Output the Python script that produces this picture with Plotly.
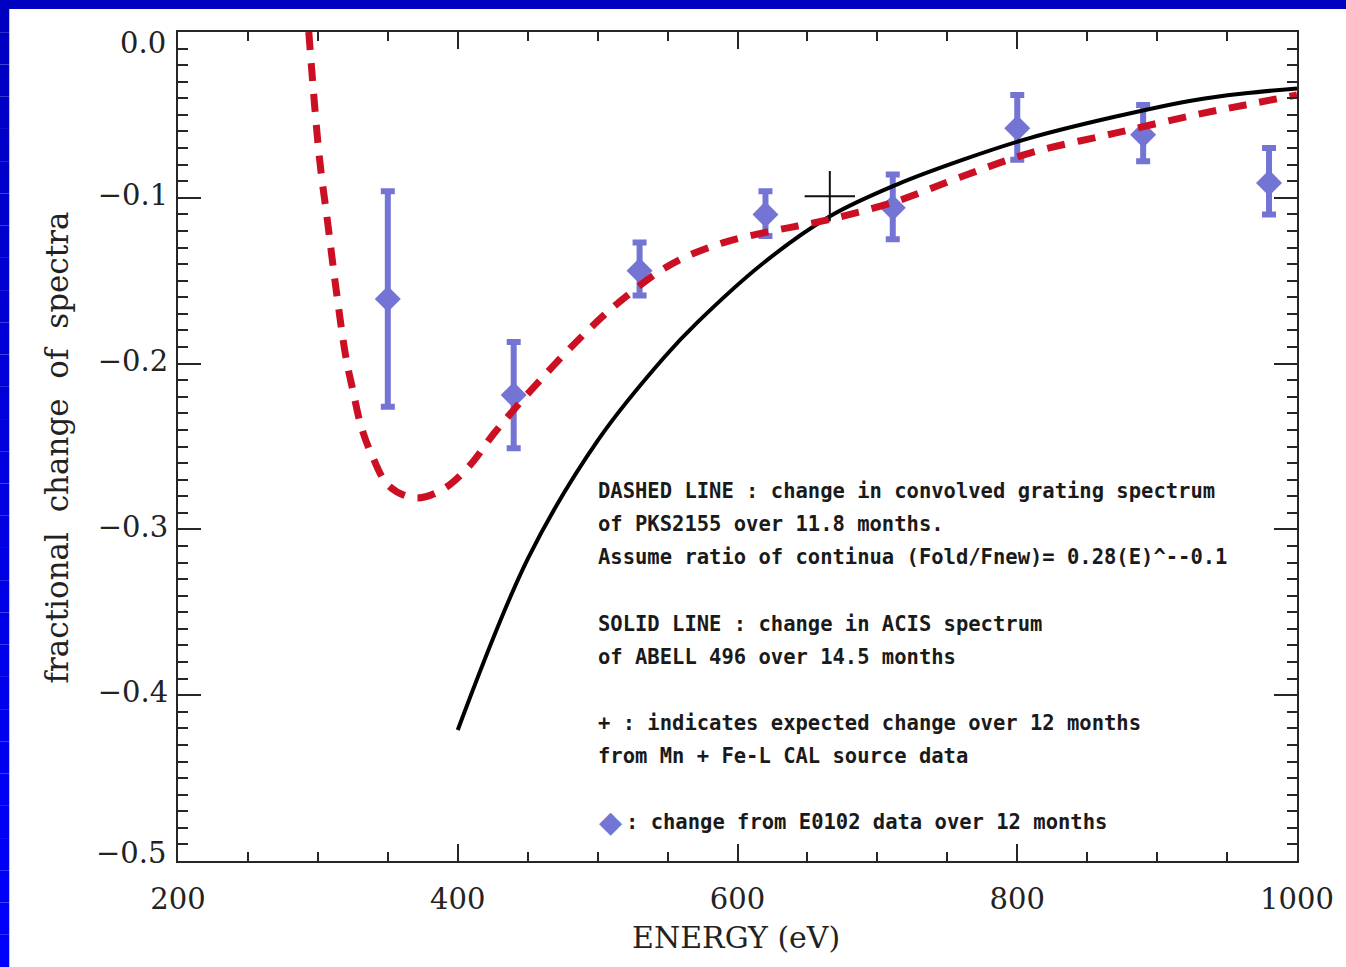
import plotly.graph_objects as go

# ---------------- data ----------------
# E0102 data points (diamonds with error bars)
e0102_energy = [350, 440, 530, 620, 711, 800, 890, 980]
e0102_change = [-0.161, -0.219, -0.144, -0.110, -0.106, -0.058, -0.062, -0.091]
e0102_err_up = [0.065, 0.032, 0.017, 0.014, 0.020, 0.020, 0.018, 0.021]
e0102_err_down = [0.065, 0.032, 0.015, 0.013, 0.019, 0.019, 0.016, 0.019]

# dashed line: convolved grating spectrum of PKS2155
dashed_energy = [293.5, 301, 307, 313, 320, 325, 331, 339, 351, 370, 389, 408, 426,
                 443, 460, 480, 503, 524, 543, 562, 590, 619, 643, 666, 714, 761,
                 809, 870, 927, 963, 1000]
dashed_change = [0.0, -0.075, -0.115, -0.155, -0.196, -0.216, -0.238, -0.256, -0.274,
                 -0.281, -0.276, -0.262, -0.242, -0.225, -0.209, -0.191, -0.172,
                 -0.157, -0.145, -0.136, -0.127, -0.121, -0.117, -0.113, -0.102,
                 -0.087, -0.073, -0.061, -0.050, -0.044, -0.038]

# solid line: ACIS spectrum of ABELL 496
solid_energy = [400, 450.5, 500.4, 547.8, 571.5, 619, 666.4, 713.9,
                761.3, 808.8, 870.5, 927.4, 963, 1000]
solid_change = [-0.421, -0.317, -0.246, -0.196, -0.175, -0.139, -0.111,
                -0.092, -0.077, -0.064, -0.051, -0.041, -0.037, -0.034]

# "+" : expected change from Mn + Fe-L CAL source data
cal_energy = [666]
cal_change = [-0.099]

x_ticks = [200, 400, 600, 800, 1000]
y_ticks = [0.0, -0.1, -0.2, -0.3, -0.4, -0.5]
y_tick_text = ["", "\u22120.1", "\u22120.2", "\u22120.3", "\u22120.4", ""]
y_end_labels = ["0.0", "\u22120.5"]

note_lines = [
    "DASHED LINE : change in convolved grating spectrum",
    "of PKS2155 over 11.8 months.",
    "Assume ratio of continua (Fold/Fnew)= 0.28(E)^--0.1",
    "SOLID LINE : change in ACIS spectrum",
    "of ABELL 496 over 14.5 months",
    "+ : indicates expected change over 12 months",
    "from Mn + Fe-L CAL source data",
    ": change from E0102 data over 12 months",
]

# ---------------- styling / layout constants ----------------
W, H = 1346, 967
ML, MR, MT, MB = 178, 44, 32, 106
PW, PH = W - ML - MR, H - MT - MB

BLUE_PT = "#7474d4"
RED = "#cc1024"
AXIS = "#262626"
SERIF = "DejaVu Serif"
MONO = "DejaVu Sans Mono"
TXT = "#1a1a1a"


def px_to_paper(px, py):
    return (px - ML) / PW, (H - MB - py) / PH


fig = go.Figure()

fig.add_trace(go.Scatter(
    x=e0102_energy, y=e0102_change, mode="markers",
    marker=dict(symbol="diamond", size=20, color=BLUE_PT),
    error_y=dict(type="data", symmetric=False, array=e0102_err_up,
                 arrayminus=e0102_err_down, color=BLUE_PT, thickness=6, width=7),
    showlegend=False, hoverinfo="skip"))

fig.add_trace(go.Scatter(
    x=solid_energy, y=solid_change, mode="lines",
    line=dict(color="black", width=4, shape="spline", smoothing=1.0),
    showlegend=False, hoverinfo="skip"))

fig.add_trace(go.Scatter(
    x=dashed_energy, y=dashed_change, mode="lines",
    line=dict(color=RED, width=7, dash="18px,13px", shape="spline", smoothing=1.0),
    showlegend=False, hoverinfo="skip"))

fig.add_trace(go.Scatter(
    x=cal_energy, y=cal_change, mode="markers",
    marker=dict(symbol="cross-thin", size=36, line=dict(color="#111111", width=2)),
    showlegend=False, hoverinfo="skip"))

# ---------------- blue frame (decoration) ----------------
shapes = []
x0, _ = px_to_paper(-10, 0)
x1, _ = px_to_paper(8.5, 0)
n_seg = 30
for i in range(n_seg):
    _, ya = px_to_paper(0, i * H / n_seg)
    _, yb = px_to_paper(0, (i + 1) * H / n_seg)
    b = int(192 + (255 - 192) * (i + 0.5) / n_seg)
    shapes.append(dict(type="rect", xref="paper", yref="paper", x0=x0, x1=x1,
                       y0=yb, y1=ya, fillcolor=f"rgb(0,0,{b})", line=dict(width=0),
                       layer="below"))
tx0, ty1 = px_to_paper(-10, -10)
tx1, ty0 = px_to_paper(W + 40, 9)
shapes.append(dict(type="rect", xref="paper", yref="paper", x0=tx0, x1=tx1,
                   y0=ty0, y1=ty1, fillcolor="rgb(0,0,192)", line=dict(width=0),
                   layer="below"))

# ---------------- annotations ----------------
annotations = []
line_px_y = [491, 524, 557, 624, 657, 723, 756, 822]
for i, (txt, py) in enumerate(zip(note_lines, line_px_y)):
    px = 598 if i < len(note_lines) - 1 else 626
    ax, ay = px_to_paper(px, py)
    annotations.append(dict(text=txt, xref="paper", yref="paper", x=ax, y=ay,
                            xanchor="left", yanchor="middle", showarrow=False,
                            font=dict(family=MONO, size=20.5, color=TXT, weight="bold")))
# diamond key symbol of the last note line
ax, ay = px_to_paper(612, 821)
annotations.append(dict(text="\u25c6", xref="paper", yref="paper", x=ax, y=ay,
                        xanchor="center", yanchor="middle", showarrow=False,
                        font=dict(family="DejaVu Sans", size=30, color=BLUE_PT)))

# end labels of the y axis (drawn slightly inside, as in the reference)
for lab, py in zip(y_end_labels, [43, 853]):
    ax, ay = px_to_paper(168, py)
    annotations.append(dict(text=lab, xref="paper", yref="paper", x=ax, y=ay,
                            xanchor="right", yanchor="middle", showarrow=False,
                            font=dict(family=SERIF, size=29, color="#222222")))

tx, ty = px_to_paper(738, 937)
annotations.append(dict(text="ENERGY (eV)", xref="paper", yref="paper", x=tx, y=ty,
                        xanchor="center", yanchor="middle", showarrow=False,
                        font=dict(family=SERIF, size=30, color="#222222")))
tx, ty = px_to_paper(56, 448)
annotations.append(dict(text="fractional\u00a0\u00a0change\u00a0\u00a0of\u00a0\u00a0spectra",
                        xref="paper", yref="paper",
                        x=tx, y=ty, xanchor="center", yanchor="middle", textangle=-90,
                        showarrow=False,
                        font=dict(family=SERIF, size=31, color="#222222")))

fig.update_layout(
    width=W, height=H,
    margin=dict(l=ML, r=MR, t=MT, b=MB, pad=0),
    paper_bgcolor="white", plot_bgcolor="white",
    shapes=shapes, annotations=annotations,
    xaxis=dict(range=[200, 1000], tickmode="array", tickvals=x_ticks,
               ticks="inside", ticklen=17, tickwidth=2, tickcolor=AXIS,
               showline=True, linecolor=AXIS, linewidth=2, mirror="ticks",
               showgrid=False, zeroline=False, ticklabelstandoff=11,
               tickfont=dict(family=SERIF, size=29, color="#222222"),
               minor=dict(tickmode="linear", tick0=200, dtick=50, ticks="inside",
                          ticklen=9, tickwidth=2, tickcolor=AXIS, showgrid=False)),
    yaxis=dict(range=[-0.5, 0.0], tickmode="array", tickvals=y_ticks,
               ticktext=y_tick_text,
               ticks="inside", ticklen=23, tickwidth=2, tickcolor=AXIS,
               showline=True, linecolor=AXIS, linewidth=2, mirror="ticks",
               showgrid=False, zeroline=False, ticklabelstandoff=2,
               ticklabelshift=-3,
               tickfont=dict(family=SERIF, size=29, color="#222222"),
               minor=dict(tickmode="linear", tick0=0, dtick=0.01, ticks="inside",
                          ticklen=10, tickwidth=2, tickcolor=AXIS, showgrid=False)),
)

fig.write_html("out.html",
               config={"displayModeBar": False},
               post_script="document.body.style.margin='0';document.body.style.overflow='hidden';")
